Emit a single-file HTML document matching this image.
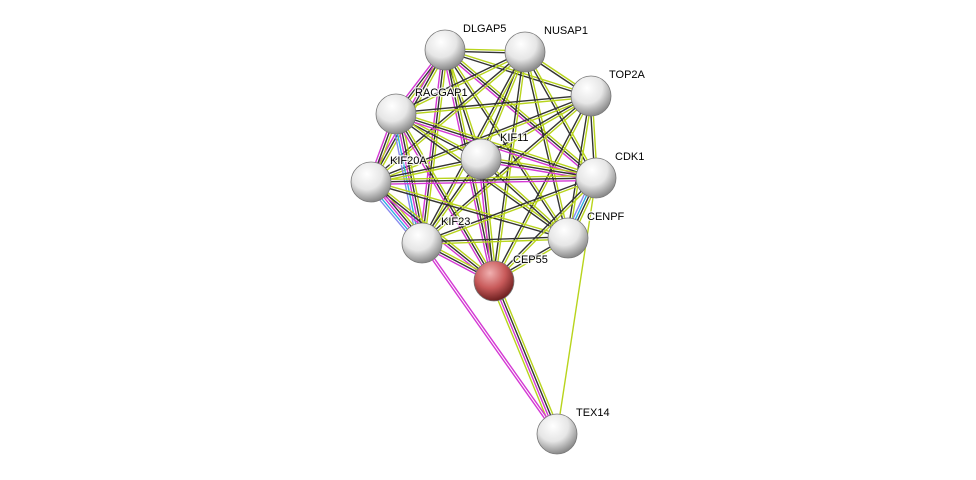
<!DOCTYPE html>
<html><head><meta charset="utf-8"><style>
html,body{margin:0;padding:0;background:#fff;width:976px;height:480px;overflow:hidden}
svg{display:block}
text{font-family:"Liberation Sans",sans-serif;font-size:11px;fill:#000;stroke:#fff;stroke-width:2.5px;paint-order:stroke;stroke-opacity:0.8}
</style></head><body>
<svg id="s" width="976" height="480" viewBox="0 0 976 480">
<defs>
<radialGradient id="g" cx="40%" cy="30%" r="70%">
<stop offset="0" stop-color="#ffffff"/><stop offset="0.55" stop-color="#e6e6e6"/><stop offset="1" stop-color="#8a8a8a"/>
</radialGradient>
<radialGradient id="r" cx="40%" cy="30%" r="70%">
<stop offset="0" stop-color="#f0b0b0"/><stop offset="0.55" stop-color="#c85a5a"/><stop offset="1" stop-color="#6e2020"/>
</radialGradient>
</defs>
<g id="edges"></g>
<g id="nodes"></g>
<g>
<text x="463" y="32">DLGAP5</text>
<text x="544" y="34">NUSAP1</text>
<text x="609" y="78">TOP2A</text>
<text x="415" y="96">RACGAP1</text>
<text x="500" y="141">KIF11</text>
<text x="390" y="164">KIF20A</text>
<text x="615" y="160">CDK1</text>
<text x="587" y="220">CENPF</text>
<text x="441" y="225">KIF23</text>
<text x="513" y="263">CEP55</text>
<text x="576" y="416">TEX14</text>
</g>
</svg>
<script>
var N={DLGAP5:[445,50],NUSAP1:[525,52],TOP2A:[591,96],RACGAP1:[396,114],KIF11:[481,159],KIF20A:[371,182],CDK1:[596,178],CENPF:[568,238],KIF23:[422,243],CEP55:[494,281],TEX14:[557,434]};
var C={k:"#333333",y:"#b8d41c",m:"#d438d4",b:"#2fb0e0",v:"#8888ee"};
var cl=["DLGAP5","NUSAP1","TOP2A","RACGAP1","KIF11","KIF20A","CDK1","CENPF","KIF23","CEP55"];
var mag={"RACGAP1":1,"KIF23":1,"CEP55":1,"KIF20A":1,"DLGAP5":1};
var E=[];
for(var i=0;i<cl.length;i++)for(var j=i+1;j<cl.length;j++){
 var a=cl[i],b=cl[j],c=["y","k"];
 if(mag[a]&&mag[b]||(a=="KIF11"&&(b=="CDK1"||b=="CEP55"))||(b=="CDK1"&&mag[a])) c.push("m");
 if((a=="RACGAP1"&&b=="KIF23")||(a=="KIF20A"&&b=="KIF23")||(a=="CDK1"&&b=="CENPF")) c.push("b","v");
 E.push([a,b,c]);
}
E.push(["CEP55","TEX14",["y","k","m","y"]]);
E.push(["KIF23","TEX14",["m","m"]]);
E.push(["CDK1","TEX14",["y"]]);
var g=document.getElementById("edges"),ns="http://www.w3.org/2000/svg";
E.forEach(function(e){
 var p=N[e[0]],q=N[e[1]],dx=q[0]-p[0],dy=q[1]-p[1],L=Math.hypot(dx,dy),nx=-dy/L,ny=dx/L,n=e[2].length;
 e[2].forEach(function(c,k){var o=(k-(n-1)/2)*2.4;
  var l=document.createElementNS(ns,"line");
  l.setAttribute("x1",p[0]+nx*o);l.setAttribute("y1",p[1]+ny*o);l.setAttribute("x2",q[0]+nx*o);l.setAttribute("y2",q[1]+ny*o);
  l.setAttribute("stroke",C[c]);l.setAttribute("stroke-width","1.4");g.appendChild(l);});
});
var gn=document.getElementById("nodes");
for(var k in N){var c=document.createElementNS(ns,"circle");c.setAttribute("cx",N[k][0]);c.setAttribute("cy",N[k][1]);c.setAttribute("r",20);
 c.setAttribute("fill",k=="CEP55"?"url(#r)":"url(#g)");c.setAttribute("stroke","#777");c.setAttribute("stroke-width","0.8");gn.appendChild(c);}
</script>
</body></html>
